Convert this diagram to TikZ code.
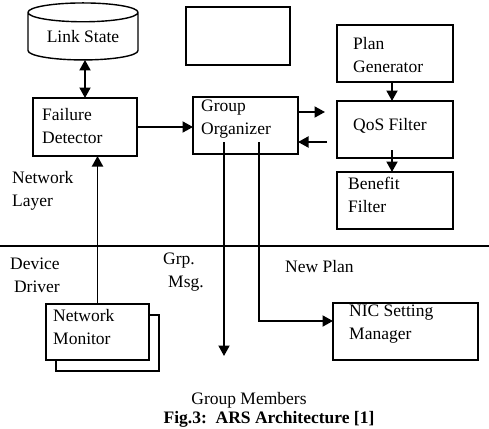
\documentclass[tikz,border=0pt]{standalone}
\usepackage{fontspec}
\setmainfont{Liberation Serif}
\usetikzlibrary{arrows.meta,shapes.geometric,shadows}
\newcommand{\archfont}{\fontsize{17.5}{23}\selectfont}
\tikzset{arch/.style={x=1pt,y=-1pt,line join=miter,>={Triangle[length=10.5pt,width=11pt]}},
  blk/.style={draw,line width=1.4pt,anchor=north west,inner sep=0pt,outer sep=0pt},
  store/.style={cylinder,shape border rotate=90,draw,line width=1.4pt,aspect=0.26,
    minimum width=110pt,minimum height=57pt,inner sep=0pt,outer sep=0pt,font=\archfont},
  txt/.style={anchor=north west,align=left,inner sep=0pt,font=\archfont},
  flow/.style={line width=1.9pt,->}}

\begin{document}
\begin{tikzpicture}[arch]
  \useasboundingbox (0,0) rectangle (489,428);
  % network layer: link state store, failure detection, grouping
  \node[store] (ls) at (83,36.5) {Link State};
  \node[blk,minimum width=104pt,minimum height=58pt] (blank) at (186,7) {};
  \node[blk,minimum width=104pt,minimum height=58pt] (fd) at (33,98) {};
  \node[txt] (fdt) at (42,108) {Failure\\Detector};
  \node[blk,minimum width=105pt,minimum height=57pt] (go) at (193,97) {};
  \node[txt] (got) at (201,100) {Group\\Organizer};
  % planning column
  \node[blk,minimum width=116pt,minimum height=57pt] (pg) at (337,25) {};
  \node[txt] (pgt) at (353,37) {Plan\\Generator};
  \node[blk,minimum width=116pt,minimum height=57pt] (qos) at (337,101) {};
  \node[txt] (qost) at (353,118) {QoS Filter};
  \node[blk,minimum width=116pt,minimum height=57pt] (bf) at (337,172) {};
  \node[txt] (bft) at (348,177) {Benefit\\Filter};
  % device driver layer
  \node[blk,fill=white,minimum width=103pt,minimum height=56pt,
    copy shadow={shadow xshift=10pt,shadow yshift=-11pt}] (nm) at (46,304) {};
  \node[txt] (nmt) at (53,309) {Network\\Monitor};
  \node[blk,minimum width=145pt,minimum height=57pt] (nic) at (333,303) {};
  \node[txt] (nict) at (349,305) {NIC Setting\\Manager};
  % layer boundary and its labels
  \draw[line width=1.2pt] (0,246) -- (489,246);
  \node[txt] (nl) at (12,171) {Network\\Layer};
  \node[txt,align=right] (dd) at (10,258) {Device\\Driver};
  \node[txt] (gmsg) at (163,253) {Grp.\\\hspace*{5pt}Msg.};
  \node[txt] (np) at (285,260) {New Plan};
  \node[txt,anchor=north] (gmem) at (249,392) {Group Members};
  \node[txt,anchor=north,font=\archfont\bfseries] (cap) at (269,411.5) {Fig.3:\ \ ARS Architecture [1]};
  % connectors
  \draw[flow,<->] (fd.north) -- (fd.north |- ls.south);
  \draw[flow] (fd.east) -- (fd.east -| go.west);
  \coordinate (qin) at (325,112);
  \coordinate (qout) at (327,142);
  \draw[flow] (go.east |- qin) -- (qin);
  \draw[flow] (qout) -- (go.east |- qout);
  \draw[flow] ([xshift=-3pt]pg.south) -- ([xshift=-3pt]qos.north);
  \draw[flow] ([xshift=-3pt,yshift=8pt]qos.south) -- ([xshift=-3pt]bf.north);
  \coordinate (gm) at (224,356);
  \draw[flow] ([yshift=12pt]gm |- go.south) -- (gm);
  \draw[flow] ([xshift=13.5pt,yshift=12pt]go.south) |- ([yshift=10.5pt]nic.west);
  \draw[flow] (nm.north) -- (nm.north |- fd.south);
\end{tikzpicture}
\end{document}
